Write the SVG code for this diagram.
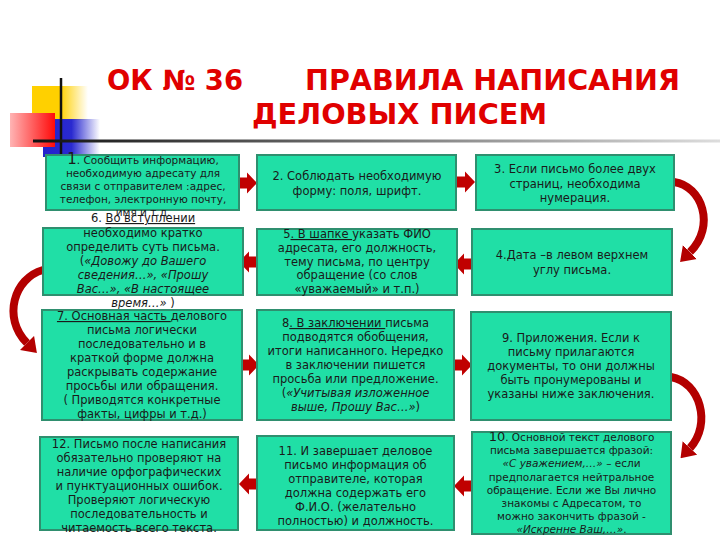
<svg xmlns="http://www.w3.org/2000/svg" width="720" height="540" viewBox="0 0 720 540">
<defs>
<style>
.box{fill:#20dfa6;stroke:#2f8f6f;stroke-width:2}
.t{font-family:"DejaVu Sans","Noto Sans",sans-serif;font-size:11.5px;fill:#1a1a1a;text-anchor:middle}
.s{font-size:10.5px}
.i{font-style:italic}
.u{text-decoration:underline}
.title{font-family:"DejaVu Sans","Noto Sans",sans-serif;font-weight:bold;font-size:28px;fill:#e00000}
.arr{fill:#c00000}
.curve{fill:none;stroke:#b30000;stroke-width:8;stroke-linecap:butt;marker-end:url(#head)}
</style>
<linearGradient id="gy" x1="0" y1="0" x2="1" y2="0"><stop offset="0" stop-color="#ffd000"/><stop offset="0.5" stop-color="#ffd000"/><stop offset="1" stop-color="#ffd000" stop-opacity="0"/></linearGradient>
<linearGradient id="gr" x1="0" y1="0" x2="1" y2="0"><stop offset="0" stop-color="#ffb4b4"/><stop offset="1" stop-color="#ff0a0a"/></linearGradient>
<linearGradient id="gb" x1="0" y1="0" x2="1" y2="0"><stop offset="0" stop-color="#2222cc"/><stop offset="0.5" stop-color="#2a2ad0"/><stop offset="1" stop-color="#2a2ad0" stop-opacity="0"/></linearGradient>
<linearGradient id="gl" x1="0" y1="0" x2="1" y2="0"><stop offset="0" stop-color="#111"/><stop offset="0.5" stop-color="#777"/><stop offset="1" stop-color="#ddd"/></linearGradient>
<marker id="head" markerUnits="userSpaceOnUse" markerWidth="14" markerHeight="20" viewBox="0 0 10 10" preserveAspectRatio="none" refX="0" refY="5" orient="auto"><path d="M0 0 L10 5 L0 10 Z" fill="#b30000"/></marker>
<path id="ar" d="M0 -5.5 H8 V-10.5 L18 0 L8 10.5 V5.5 H0 Z"/>
</defs>

<g id="logo">
<rect x="32" y="86" width="56" height="34" fill="url(#gy)"/>
<rect x="43" y="119" width="57" height="38" fill="url(#gb)"/>
<rect x="10" y="113" width="45" height="34" fill="url(#gr)"/>
<line x1="61" y1="78" x2="61" y2="162" stroke="#111" stroke-width="2.5"/>
<rect x="33" y="139.5" width="687" height="3" fill="url(#gl)"/>
</g>

<g id="title">
<text class="title" x="107" y="90" textLength="136" lengthAdjust="spacingAndGlyphs">ОК № 36</text>
<text class="title" x="305" y="90" textLength="375" lengthAdjust="spacingAndGlyphs">ПРАВИЛА  НАПИСАНИЯ</text>
<text class="title" x="252" y="124" textLength="295" lengthAdjust="spacingAndGlyphs">ДЕЛОВЫХ  ПИСЕМ</text>
</g>

<g id="connectors">
<use href="#ar" class="arr" transform="translate(239,183)"/>
<use href="#ar" class="arr" transform="translate(457,182)"/>
<use href="#ar" class="arr" transform="translate(472,264) scale(-1,1)"/>
<use href="#ar" class="arr" transform="translate(257,262) scale(-1,1)"/>
<use href="#ar" class="arr" transform="translate(241,365)"/>
<use href="#ar" class="arr" transform="translate(454,365)"/>
<use href="#ar" class="arr" transform="translate(472,486) scale(-1,1)"/>
<use href="#ar" class="arr" transform="translate(257,484) scale(-1,1)"/>
<path class="curve" d="M674 182 C702 186 716 226 690 252"/>
<path class="curve" d="M43 270 C14 278 2 318 27 343"/>
<path class="curve" d="M671 377 C700 382 712 424 690 448"/>
</g>

<g id="n1">
<rect class="box" x="46" y="155" width="193" height="55"/>
<text class="t s" x="143" y="164"><tspan font-size="15">1</tspan>. Сообщить информацию,</text>
<text class="t s" x="143" y="177">необходимую адресату для</text>
<text class="t s" x="143" y="190">связи с отправителем :адрес,</text>
<text class="t s" x="143" y="203">телефон, электронную почту,</text>
<text class="t s" x="143" y="216">имя и т.д.</text>
</g>

<g id="n2">
<rect class="box" x="257" y="155" width="199" height="55"/>
<text class="t" x="357" y="180">2. Соблюдать необходимую</text>
<text class="t" x="357" y="195">форму: поля, шрифт.</text>
</g>

<g id="n3">
<rect class="box" x="476" y="155" width="198" height="55"/>
<text class="t" x="575" y="173">3. Если письмо более двух</text>
<text class="t" x="575" y="187.5">страниц, необходима</text>
<text class="t" x="575" y="202">нумерация.</text>
</g>

<g id="n4">
<rect class="box" x="472" y="229" width="200" height="66"/>
<text class="t" x="572" y="259">4.Дата –в левом верхнем</text>
<text class="t" x="572" y="274">углу письма.</text>
</g>

<g id="n5">
<rect class="box" x="257" y="229" width="200" height="66"/>
<text class="t" x="357" y="238">5<tspan class="u">. В шапке </tspan>указать ФИО</text>
<text class="t" x="357" y="252">адресата, его должность,</text>
<text class="t" x="357" y="265.5">тему письма, по центру</text>
<text class="t" x="357" y="279">обращение (со слов</text>
<text class="t" x="357" y="293">«уважаемый» и т.п.)</text>
</g>

<g id="n6">
<rect class="box" x="43" y="228" width="200" height="67"/>
<text class="t" x="143" y="222">6. <tspan class="u">Во вступлении</tspan></text>
<text class="t" x="143" y="237">необходимо кратко</text>
<text class="t" x="143" y="251">определить суть письма.</text>
<text class="t" x="143" y="265">(<tspan class="i">«Довожу до Вашего</tspan></text>
<text class="t i" x="143" y="279">сведения…», «Прошу</text>
<text class="t i" x="143" y="293">Вас…», «В настоящее</text>
<text class="t" x="143" y="307"><tspan class="i">время…»</tspan> )</text>
</g>

<g id="n7">
<rect class="box" x="42" y="310" width="200" height="110"/>
<text class="t" x="142" y="320"><tspan class="u">7. Основная часть </tspan>делового</text>
<text class="t" x="142" y="334">письма логически</text>
<text class="t" x="142" y="348">последовательно и в</text>
<text class="t" x="142" y="362">краткой форме должна</text>
<text class="t" x="142" y="376">раскрывать содержание</text>
<text class="t" x="142" y="390">просьбы или обращения.</text>
<text class="t" x="142" y="404">( Приводятся конкретные</text>
<text class="t" x="142" y="418">факты, цифры и т.д.)</text>
</g>

<g id="n8">
<rect class="box" x="257" y="310" width="197" height="110"/>
<text class="t" x="355.5" y="327">8<tspan class="u">. В заключении </tspan>письма</text>
<text class="t" x="355.5" y="341">подводятся обобщения,</text>
<text class="t" x="355.5" y="355">итоги написанного. Нередко</text>
<text class="t" x="355.5" y="369">в заключении пишется</text>
<text class="t" x="355.5" y="383">просьба или предложение.</text>
<text class="t" x="355.5" y="397">(<tspan class="i">«Учитывая изложенное</tspan></text>
<text class="t" x="355.5" y="411"><tspan class="i">выше, Прошу Вас…»</tspan>)</text>
</g>

<g id="n9">
<rect class="box" x="471" y="312" width="200" height="108"/>
<text class="t" x="571" y="342">9. Приложения. Если к</text>
<text class="t" x="571" y="356">письму прилагаются</text>
<text class="t" x="571" y="370">документы, то они должны</text>
<text class="t" x="571" y="384">быть пронумерованы и</text>
<text class="t" x="571" y="398">указаны ниже заключения.</text>
</g>

<g id="n10">
<rect class="box" x="472" y="432" width="199" height="102"/>
<text class="t s" x="571.5" y="441"><tspan font-size="13">10</tspan>. Основной текст делового</text>
<text class="t s" x="571.5" y="454">письма завершается фразой:</text>
<text class="t s" x="571.5" y="467"><tspan class="i">«С уважением,…»</tspan> – если</text>
<text class="t s" x="571.5" y="480.5">предполагается нейтральное</text>
<text class="t s" x="571.5" y="494">обращение. Если же Вы лично</text>
<text class="t s" x="571.5" y="507">знакомы с Адресатом, то</text>
<text class="t s" x="571.5" y="520">можно закончить фразой -</text>
<text class="t s" x="571.5" y="533"><tspan class="i">«Искренне Ваш,…»</tspan>.</text>
</g>

<g id="n11">
<rect class="box" x="257" y="436" width="197" height="94"/>
<text class="t" x="355.5" y="455">11. И завершает деловое</text>
<text class="t" x="355.5" y="469">письмо информация об</text>
<text class="t" x="355.5" y="483">отправителе, которая</text>
<text class="t" x="355.5" y="497">должна содержать его</text>
<text class="t" x="355.5" y="511">Ф.И.О. (желательно</text>
<text class="t" x="355.5" y="525">полностью) и должность.</text>
</g>

<g id="n12">
<rect class="box" x="40" y="437" width="198" height="93"/>
<text class="t" x="139" y="448">12. Письмо после написания</text>
<text class="t" x="139" y="462">обязательно проверяют на</text>
<text class="t" x="139" y="476">наличие орфографических</text>
<text class="t" x="139" y="490">и пунктуационных ошибок.</text>
<text class="t" x="139" y="504">Проверяют логическую</text>
<text class="t" x="139" y="518">последовательность и</text>
<text class="t" x="139" y="532">читаемость всего текста.</text>
</g>
</svg>
